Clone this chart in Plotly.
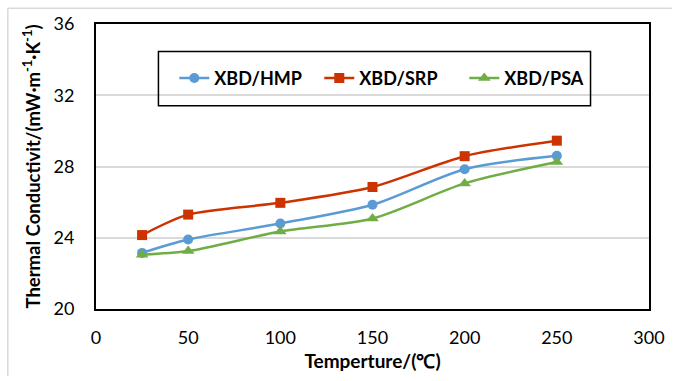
import plotly.graph_objects as go

temps = [25, 50, 100, 150, 200, 250]
hmp = [23.15, 23.9, 24.8, 25.85, 27.85, 28.6]
srp = [24.15, 25.3, 25.96, 26.85, 28.58, 29.45]
psa = [23.05, 23.25, 24.35, 25.08, 27.05, 28.25]
series_names = ["XBD/HMP", "XBD/SRP", "XBD/PSA"]
colors = ["#5B9BD5", "#CC3300", "#70AD47"]
symbols = ["circle", "square", "triangle-up"]

FONT = "Lato"

fig = go.Figure()
for name, ys, c, s in zip(series_names, [hmp, srp, psa], colors, symbols):
    fig.add_trace(go.Scatter(
        x=temps, y=ys, name=name, mode="lines+markers",
        line=dict(color=c, width=2.5, shape="spline", smoothing=0.8),
        marker=dict(symbol=s, size=10 if s != "triangle-up" else 11, color=c),
    ))

fig.update_layout(
    width=677, height=381,
    margin=dict(l=96, r=23, t=24, b=68),
    paper_bgcolor="white", plot_bgcolor="white",
    font=dict(family=FONT, color="#000000"),
    showlegend=True,
    legend=dict(
        orientation="h", x=(175 - 96) / 558, xanchor="left", y=(313 - 79) / 289, yanchor="middle",
        bgcolor="rgba(0,0,0,0)", borderwidth=0,
        font=dict(family=FONT, size=18, color="#000000", weight="bold"),
        itemwidth=30, entrywidth=100, entrywidthmode="pixels",
    ),
    xaxis=dict(
        range=[0, 300], dtick=50, tick0=0,
        showgrid=False, zeroline=False,
        showline=True, linecolor="black", linewidth=2, mirror=True,
        ticks="", ticklabelstandoff=11,
        tickfont=dict(family=FONT, size=18, color="#000000"),
        title=dict(text="Temperture/(℃)", standoff=8,
                   font=dict(family=FONT, size=19, color="#000000", weight="bold")),
    ),
    yaxis=dict(
        range=[20, 36], dtick=4, tick0=20,
        showgrid=True, gridcolor="#D9D9D9", gridwidth=1.5, zeroline=False,
        showline=True, linecolor="black", linewidth=2, mirror=True,
        ticks="", ticklabelstandoff=16,
        tickfont=dict(family=FONT, size=18, color="#000000"),
        title=dict(text="Thermal Conductivit/(mW·m<sup>-1</sup>·K<sup>-1</sup>)", standoff=8,
                   font=dict(family=FONT, size=18.5, color="#000000", weight="bold")),
    ),
    shapes=[
        dict(type="rect", xref="paper", yref="paper",
             x0=(159 - 96) / 558, x1=(595 - 96) / 558,
             y0=(313 - 107) / 289, y1=(313 - 52) / 289,
             line=dict(color="black", width=1.5), fillcolor="rgba(0,0,0,0)", layer="above"),
        dict(type="line", xref="paper", yref="paper",
             x0=(7 - 96) / 558, x1=(677 - 96) / 558,
             y0=(313 - 8) / 289, y1=(313 - 8) / 289,
             line=dict(color="#D9D9D9", width=1.5)),
        dict(type="line", xref="paper", yref="paper",
             x0=(7 - 96) / 558, x1=(7 - 96) / 558,
             y0=(313 - 381) / 289, y1=(313 - 8) / 289,
             line=dict(color="#D9D9D9", width=1.5)),
    ],
)

fig.write_html("out.html")
